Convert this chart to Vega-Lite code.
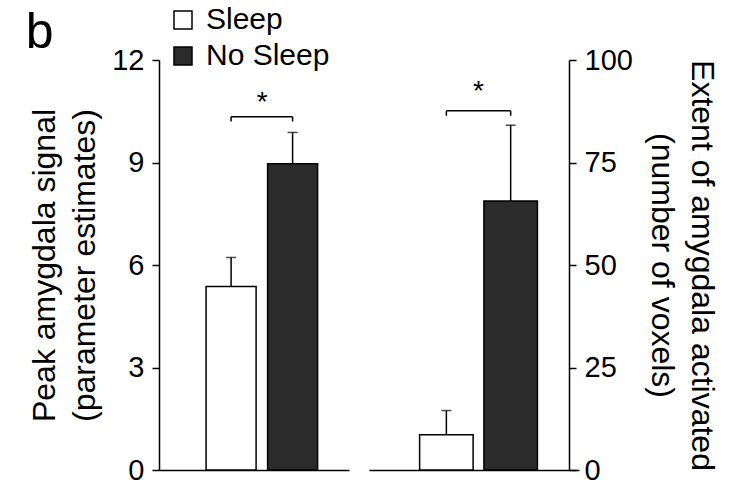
{
  "$schema": "https://vega.github.io/schema/vega-lite/v6.json",
  "background": "white",
  "padding": {"left": 25, "top": 5, "right": 20, "bottom": 2},
  "title": {"text": "b", "anchor": "start", "frame": "bounds", "fontSize": 50, "fontWeight": "normal", "font": "Liberation Sans", "color": "black", "offset": -53, "dx": -3},
  "config": {
    "view": {"stroke": null},
    "font": "Liberation Sans",
    "axis": {"labelFont": "Liberation Sans", "titleFont": "Liberation Sans", "labelColor": "black", "titleColor": "black", "domainColor": "black", "tickColor": "black", "grid": false, "domainWidth": 1.5, "tickWidth": 1.5, "tickSize": 7, "labelPadding": 8, "labelFontSize": 29, "titleFontSize": 32, "titleFontWeight": "normal", "titleLineHeight": 40, "titlePadding": 10}
  },
  "datasets": {
    "bars": [
      {"panel": "signal", "group": "Sleep", "value": 5.37, "hi": 6.22},
      {"panel": "signal", "group": "No Sleep", "value": 8.96, "hi": 9.88},
      {"panel": "voxels", "group": "Sleep", "value": 8.6, "hi": 14.5},
      {"panel": "voxels", "group": "No Sleep", "value": 65.6, "hi": 84.1}
    ],
    "brackets": [
      {"panel": "signal", "from": "Sleep", "to": "No Sleep", "level": 10.34, "foot": 10.2, "star": 10.75, "label": "*"},
      {"panel": "voxels", "from": "Sleep", "to": "No Sleep", "level": 87.6, "foot": 86.4, "star": 92.3, "label": "*"}
    ]
  },
  "spacing": 20,
  "resolve": {"scale": {"fill": "independent"}, "legend": {"fill": "independent"}},
  "hconcat": [
    {
      "width": 190,
      "height": 410,
      "layer": [
        {
          "data": {"name": "bars"},
          "transform": [{"filter": "datum.panel === 'signal'"}],
          "mark": {"type": "bar", "stroke": "black", "strokeWidth": 1.5},
          "encoding": {
            "x": {"field": "group", "type": "nominal", "scale": {"domain": ["Sleep", "No Sleep"], "paddingInner": 0.187, "paddingOuter": 0.638, "align": 0.6}, "axis": {"labels": false, "ticks": false, "title": null}},
            "y": {"field": "value", "type": "quantitative", "scale": {"domain": [0, 12], "nice": false}, "axis": {"values": [0, 3, 6, 9, 12], "title": ["Peak amygdala signal", "(parameter estimates)"]}},
            "fill": {"field": "group", "type": "nominal", "scale": {"domain": ["Sleep", "No Sleep"], "range": ["white", "#2b2b2b"]}, "legend": {"orient": "none", "legendX": 9, "legendY": -55, "title": null, "symbolType": "square", "symbolSize": 324, "symbolStrokeColor": "black", "symbolStrokeWidth": 1.5, "symbolOpacity": 1, "labelFontSize": 30, "labelFont": "Liberation Sans", "labelColor": "black", "rowPadding": 6, "labelOffset": 8}}
          }
        },
        {
          "data": {"name": "bars"},
          "transform": [{"filter": "datum.panel === 'signal'"}],
          "mark": {"type": "rule", "color": "black", "strokeWidth": 1.5},
          "encoding": {
            "x": {"field": "group", "type": "nominal"},
            "y": {"field": "value", "type": "quantitative"},
            "y2": {"field": "hi"}
          }
        },
        {
          "data": {"name": "bars"},
          "transform": [{"filter": "datum.panel === 'signal'"}],
          "mark": {"type": "tick", "color": "black", "size": 10, "thickness": 1.5, "orient": "horizontal"},
          "encoding": {
            "x": {"field": "group", "type": "nominal"},
            "y": {"field": "hi", "type": "quantitative"}
          }
        },
        {
          "data": {"name": "brackets"},
          "transform": [{"filter": "datum.panel === 'signal'"}],
          "mark": {"type": "rule", "color": "black", "strokeWidth": 1.5},
          "encoding": {
            "x": {"field": "from", "type": "nominal"},
            "x2": {"field": "to"},
            "y": {"field": "level", "type": "quantitative"}
          }
        },
        {
          "data": {"name": "brackets"},
          "transform": [{"filter": "datum.panel === 'signal'"}],
          "mark": {"type": "rule", "color": "black", "strokeWidth": 1.5},
          "encoding": {
            "x": {"field": "from", "type": "nominal"},
            "y": {"field": "foot", "type": "quantitative"},
            "y2": {"field": "level"}
          }
        },
        {
          "data": {"name": "brackets"},
          "transform": [{"filter": "datum.panel === 'signal'"}],
          "mark": {"type": "rule", "color": "black", "strokeWidth": 1.5},
          "encoding": {
            "x": {"field": "to", "type": "nominal"},
            "y": {"field": "foot", "type": "quantitative"},
            "y2": {"field": "level"}
          }
        },
        {
          "data": {"name": "brackets"},
          "transform": [{"filter": "datum.panel === 'signal'"}],
          "mark": {"type": "text", "color": "black", "fontSize": 28, "font": "Liberation Sans", "dx": 31, "baseline": "middle", "align": "center"},
          "encoding": {
            "x": {"field": "from", "type": "nominal"},
            "y": {"field": "star", "type": "quantitative"},
            "text": {"field": "label"}
          }
        }
      ]
    },
    {
      "width": 210,
      "height": 410,
      "layer": [
        {
          "data": {"name": "bars"},
          "transform": [{"filter": "datum.panel === 'voxels'"}],
          "mark": {"type": "bar", "stroke": "black", "strokeWidth": 1.5},
          "encoding": {
            "x": {"field": "group", "type": "nominal", "scale": {"domain": ["Sleep", "No Sleep"], "paddingInner": 0.168, "paddingOuter": 0.717, "align": 0.549}, "axis": {"labels": false, "ticks": false, "title": null}},
            "y": {"field": "value", "type": "quantitative", "scale": {"domain": [0, 100], "nice": false}, "axis": {"orient": "right", "offset": -10, "titlePadding": 12, "values": [0, 25, 50, 75, 100], "title": ["Extent of amygdala activated", "(number of voxels)"]}},
            "fill": {"field": "group", "type": "nominal", "scale": {"domain": ["Sleep", "No Sleep"], "range": ["white", "#2b2b2b"]}, "legend": null}
          }
        },
        {
          "data": {"name": "bars"},
          "transform": [{"filter": "datum.panel === 'voxels'"}],
          "mark": {"type": "rule", "color": "black", "strokeWidth": 1.5},
          "encoding": {
            "x": {"field": "group", "type": "nominal"},
            "y": {"field": "value", "type": "quantitative"},
            "y2": {"field": "hi"}
          }
        },
        {
          "data": {"name": "bars"},
          "transform": [{"filter": "datum.panel === 'voxels'"}],
          "mark": {"type": "tick", "color": "black", "size": 10, "thickness": 1.5, "orient": "horizontal"},
          "encoding": {
            "x": {"field": "group", "type": "nominal"},
            "y": {"field": "hi", "type": "quantitative"}
          }
        },
        {
          "data": {"name": "brackets"},
          "transform": [{"filter": "datum.panel === 'voxels'"}],
          "mark": {"type": "rule", "color": "black", "strokeWidth": 1.5},
          "encoding": {
            "x": {"field": "from", "type": "nominal"},
            "x2": {"field": "to"},
            "y": {"field": "level", "type": "quantitative"}
          }
        },
        {
          "data": {"name": "brackets"},
          "transform": [{"filter": "datum.panel === 'voxels'"}],
          "mark": {"type": "rule", "color": "black", "strokeWidth": 1.5},
          "encoding": {
            "x": {"field": "from", "type": "nominal"},
            "y": {"field": "foot", "type": "quantitative"},
            "y2": {"field": "level"}
          }
        },
        {
          "data": {"name": "brackets"},
          "transform": [{"filter": "datum.panel === 'voxels'"}],
          "mark": {"type": "rule", "color": "black", "strokeWidth": 1.5},
          "encoding": {
            "x": {"field": "to", "type": "nominal"},
            "y": {"field": "foot", "type": "quantitative"},
            "y2": {"field": "level"}
          }
        },
        {
          "data": {"name": "brackets"},
          "transform": [{"filter": "datum.panel === 'voxels'"}],
          "mark": {"type": "text", "color": "black", "fontSize": 28, "font": "Liberation Sans", "dx": 32, "baseline": "middle", "align": "center"},
          "encoding": {
            "x": {"field": "from", "type": "nominal"},
            "y": {"field": "star", "type": "quantitative"},
            "text": {"field": "label"}
          }
        }
      ]
    }
  ]
}
